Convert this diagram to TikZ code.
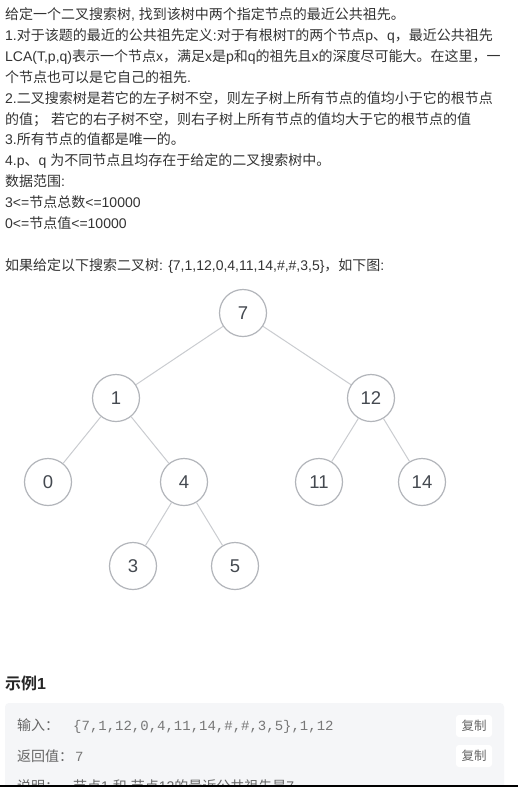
\documentclass[tikz,border=0pt]{standalone}
\usepackage{fontspec}
\setmainfont{Liberation Sans}
\setmonofont{Liberation Mono}
\newfontfamily\cjk{Noto Sans CJK SC}[BoldFont={Noto Sans CJK SC Bold}]
\usepackage[svgnames]{xcolor}
\usepackage{tikz}
\usetikzlibrary{calc}

% Chinese runs in Noto Sans CJK, the rest in Liberation Sans
\XeTeXinterchartokenstate=1
\newXeTeXintercharclass\cjkclass
\newcount\cc
\cc="4E00 \loop\ifnum\cc<"A000 \XeTeXcharclass\cc=\cjkclass \advance\cc by 1 \repeat
\cc="3000 \loop\ifnum\cc<"3040 \XeTeXcharclass\cc=\cjkclass \advance\cc by 1 \repeat
\cc="FF00 \loop\ifnum\cc<"FFF0 \XeTeXcharclass\cc=\cjkclass \advance\cc by 1 \repeat
\XeTeXinterchartoks 0 \cjkclass = {\cjk}
\XeTeXinterchartoks 4095 \cjkclass = {\cjk}
\XeTeXinterchartoks \cjkclass 0 = {\rmfamily}
\XeTeXinterchartoks \cjkclass 4095 = {\rmfamily}

\definecolor{TextGray}{HTML}{333333}
\definecolor{LabelGray}{HTML}{666666}
\definecolor{CodeGray}{HTML}{777777}
\definecolor{NumGray}{HTML}{444950}
\definecolor{RingGray}{HTML}{B2B5BA}
\definecolor{EdgeGray}{HTML}{CACCD0}
\definecolor{BoxGray}{HTML}{F5F6F8}

\tikzset{
  txt/.style={anchor=base west, inner sep=0pt, text=TextGray, font=\fontsize{14}{17}\selectfont},
  bst/.style={circle, draw=RingGray, line width=1.2pt, fill=white, minimum size=47pt, inner sep=0pt,
              text=NumGray, font=\fontsize{18.5}{21}\selectfont},
  link/.style={draw=EdgeGray, line width=1pt},
  label/.style={txt, text=LabelGray},
  code/.style={anchor=base west, inner sep=0pt, text=CodeGray, font=\fontsize{14}{17}\ttfamily},
  copybtn/.style={rounded corners=3pt, fill=white, draw=none, minimum width=36pt, minimum height=22pt,
                  inner sep=0pt, text=LabelGray, font=\fontsize{12.5}{15}\selectfont}
}

\begin{document}
\begin{tikzpicture}[x=1pt, y=-1pt]
\path[use as bounding box, fill=white] (0,0) rectangle (518,788);

% problem text
\node[txt] (l1)  at (5,19.5)  {给定一个二叉搜索树, 找到该树中两个指定节点的最近公共祖先。};
\node[txt] (l2)  at (5,40.4)  {1.对于该题的最近的公共祖先定义:对于有根树T的两个节点p、q，最近公共祖先};
\node[txt] (l3)  at (5,61.3)  {LCA(T,p,q)表示一个节点x，满足x是p和q的祖先且x的深度尽可能大。在这里，一};
\node[txt] (l4)  at (5,82.2)  {个节点也可以是它自己的祖先.};
\node[txt] (l5)  at (5,103.1) {2.二叉搜索树是若它的左子树不空，则左子树上所有节点的值均小于它的根节点};
\node[txt] (l6)  at (5,124.0) {的值； 若它的右子树不空，则右子树上所有节点的值均大于它的根节点的值};
\node[txt] (l7)  at (5,144.9) {3.所有节点的值都是唯一的。};
\node[txt] (l8)  at (5,165.8) {4.p、q 为不同节点且均存在于给定的二叉搜索树中。};
\node[txt] (l9)  at (5,186.7) {数据范围:};
\node[txt] (l10) at (5,207.6) {3<=节点总数<=10000};
\node[txt] (l11) at (5,228.5) {0<=节点值<=10000};
\node[txt] (l12) at (5,270.3) {如果给定以下搜索二叉树: \{7,1,12,0,4,11,14,\#,\#,3,5\}，如下图:};

% the search tree
\foreach \v/\x/\y in {7/243/313, 1/116/398, 12/371/398, 0/48/482, 4/184/482,
                      11/319/482, 14/422/482, 3/133/566, 5/235/566}
  \node[bst] (n\v) at (\x,\y) {\v};

\foreach \a/\b in {7/1, 7/12, 1/0, 1/4, 12/11, 12/14, 4/3, 4/5}
  \draw[link] (n\a) -- (n\b);

% example block
\node[txt, font=\fontsize{16}{19}\bfseries, text=black!85] (ex) at (5,689) {示例1};

\begin{scope}
\clip (0,0) rectangle (518,785);
\fill[BoxGray, rounded corners=4pt] (5,703) rectangle (504,800);

\node[label] (inLbl)  at (17,730.5) {输入：};
\node[code]  (inVal)  at (73,730.5) {\{7,1,12,0,4,11,14,\#,\#,3,5\},1,12};
\node[label] (retLbl) at (17,761.5) {返回值：};
\node[code]  (retVal) at (75,761.5) {7};
\node[label] (noteLbl) at (17,791) {说明：};
\node[label] (noteVal) at (73,791) {节点1 和 节点12的最近公共祖先是7};

\node[copybtn] (copy1) at (474,726) {复制};
\node[copybtn] (copy2) at (474,756) {复制};
\end{scope}

\draw[black, line width=1.2pt] (0,786) -- (518,786);
\end{tikzpicture}
\end{document}
